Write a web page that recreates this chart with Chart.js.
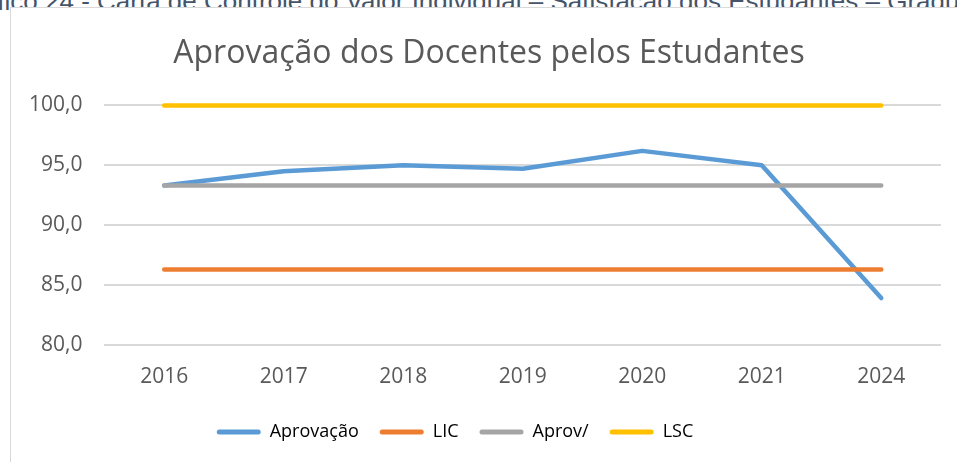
<!DOCTYPE html>
<html><head><meta charset="utf-8">
<script src="https://cdn.jsdelivr.net/npm/chart.js@4.4.0/dist/chart.umd.min.js"></script>
<style>
html,body{margin:0;padding:0;background:#fff;width:957px;height:462px;overflow:hidden;position:relative;}
#cap{position:absolute;left:-46px;top:-12px;line-height:26px;white-space:nowrap;font-family:"Liberation Sans",sans-serif;font-size:26px;color:#44546A;}
#frame{position:absolute;left:10px;top:7px;width:1000px;height:500px;border:1px solid #d9d9d9;box-sizing:border-box;background:#fff;}
#wrap{position:absolute;left:0;top:0;width:957px;height:462px;}
</style></head><body>
<div id="cap">Gráfico 24 - Carta de Controle do Valor Individual – Satisfação dos Estudantes – Graduação</div>
<div id="frame"></div>
<div id="wrap"><canvas id="c" width="957" height="462"></canvas></div>
<script>
const categories = ["2016","2017","2018","2019","2020","2021","2024"];
const aprovacao = [93.3, 94.5, 95.0, 94.7, 96.2, 95.0, 83.9];
const lic = [86.3, 86.3, 86.3, 86.3, 86.3, 86.3, 86.3];
const media = [93.3, 93.3, 93.3, 93.3, 93.3, 93.3, 93.3];
const lsc = [100.0, 100.0, 100.0, 100.0, 100.0, 100.0, 100.0];
const seriesNames = ["Aprovação","LIC","Aprov/","LSC"];
const colors = ["#5B9BD5","#ED7D31","#A5A5A5","#FFC000"];
const titleText = "Aprovação dos Docentes pelos Estudantes";

const FONT = "'Open Sans', 'Liberation Sans', sans-serif";
const ds = [aprovacao, lic, media, lsc].map((d,i)=>({
  label: seriesNames[i], data: d, borderColor: colors[i], backgroundColor: colors[i],
  borderWidth: 4.5, pointRadius: 0, borderCapStyle: 'round', borderJoinStyle: 'round',
  tension: 0, clip: false
}));
ds[0].order = 4; ds[1].order = 3; ds[2].order = 2; ds[3].order = 1;

const boxShift = {
  id: 'boxShift',
  afterLayout(chart){
    if (chart.legend) { chart.legend.left -= 19; chart.legend.right -= 19; }
    if (chart.titleBlock) { chart.titleBlock.left += 15; chart.titleBlock.right += 15; }
  }
};

new Chart(document.getElementById('c'), {
  type: 'line',
  data: { labels: categories, datasets: ds },
  plugins: [boxShift],
  options: {
    responsive: false, animation: false,
    layout: { padding: { left: 7, right: 16, top: 27, bottom: 11 } },
    plugins: {
      title: { display: true, text: titleText, color: '#595959',
        font: { family: FONT, size: 32, weight: 'normal' }, padding: { top: 8, bottom: 32 } },
      legend: { position: 'bottom',
        labels: { color: '#595959', font: { family: FONT, size: 18 }, boxWidth: 44, boxHeight: 5, padding: 21,
          generateLabels(chart){
            return chart.data.datasets.map((d,i)=>({ text: d.label, fillStyle: d.borderColor, strokeStyle: d.borderColor,
              lineWidth: 0, borderRadius: 2.5, datasetIndex: i, hidden: false }));
          } } },
      tooltip: { enabled: false }
    },
    scales: {
      x: { offset: true, grid: { display: false }, border: { display: false },
        ticks: { color: '#595959', font: { family: FONT, size: 21 }, padding: 12 } },
      y: { min: 80, max: 100, grid: { color: '#d9d9d9', lineWidth: 2, drawTicks: false }, border: { display: false },
        ticks: { stepSize: 5, color: '#595959', font: { family: FONT, size: 21 }, padding: 22,
          callback: v => v.toFixed(1).replace('.', ',') } }
    }
  }
});
</script>
</body></html>
